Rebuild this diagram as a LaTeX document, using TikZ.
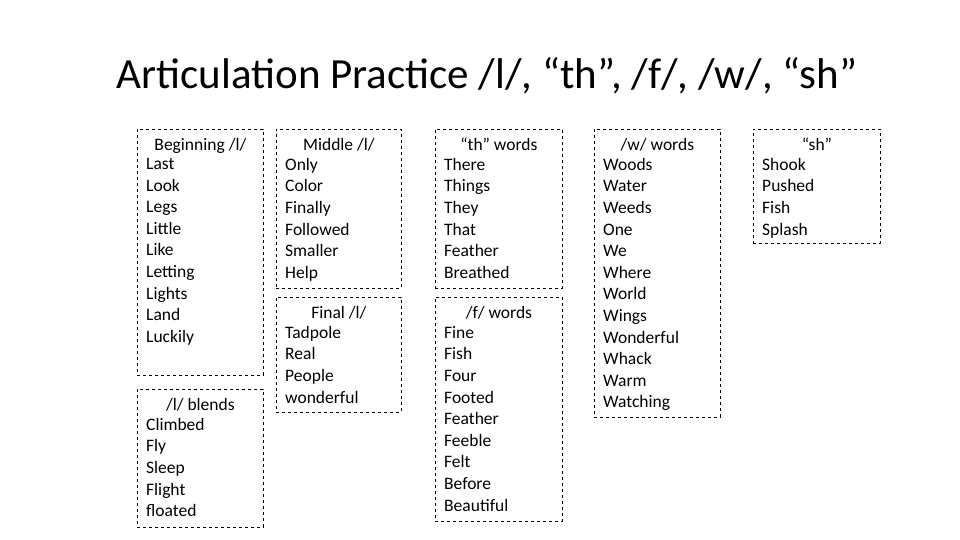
\documentclass[tikz,border=0pt]{standalone}
\usepackage{fontspec}
\setmainfont{Carlito}
\begin{document}
\begin{tikzpicture}[x=1pt,y=-1pt,
  box/.style={draw,dashed,line width=0.8pt,anchor=north west,inner sep=0pt},
  head/.style={anchor=north,font=\fontsize{17.5}{20}\selectfont,inner sep=0pt},
  items/.style={anchor=north west,align=left,inner sep=0pt,font=\fontsize{17.5}{21.6}\selectfont}]
\useasboundingbox (0,0) rectangle (960,540);
\node[anchor=center,font=\fontsize{43}{48}\selectfont] (title) at (487,76) {Articulation Practice /l/, “th”, /f/, /w/, “sh”};
\newcommand\wbox[7]{%
  \node[box,minimum width=#3pt,minimum height=#4pt] (#1) at #2 {};
  \node[head] (#1h) at ([yshift=-9pt]#1.north) {#5};
  \node[items] (#1i) at ([xshift=9pt,yshift=-29pt]#1.north west) {#6};}
\wbox{b1}{(137,129)}{126}{246}{Beginning /l/}{Last\\Look\\Legs\\Little\\Like\\Letting\\Lights\\Land\\Luckily}{}
\wbox{b2}{(137,389)}{126}{138}{/l/ blends}{Climbed\\Fly\\Sleep\\Flight\\floated}{}
\wbox{b3}{(276,129)}{125}{159}{Middle /l/}{Only\\Color\\Finally\\Followed\\Smaller\\Help}{}
\wbox{b4}{(276,297)}{125}{115}{Final /l/}{Tadpole\\Real\\People\\wonderful}{}
\wbox{b5}{(435,129)}{127}{159}{“th” words}{There\\Things\\They\\That\\Feather\\Breathed}{}
\wbox{b6}{(435,297)}{127}{224}{/f/ words}{Fine\\Fish\\Four\\Footed\\Feather\\Feeble\\Felt\\Before\\Beautiful}{}
\wbox{b7}{(594,129)}{126}{288}{/w/ words}{Woods\\Water\\Weeds\\One\\We\\Where\\World\\Wings\\Wonderful\\Whack\\Warm\\Watching}{}
\wbox{b8}{(753,129)}{127}{114}{“sh”}{Shook\\Pushed\\Fish\\Splash}{}
\end{tikzpicture}
\end{document}
